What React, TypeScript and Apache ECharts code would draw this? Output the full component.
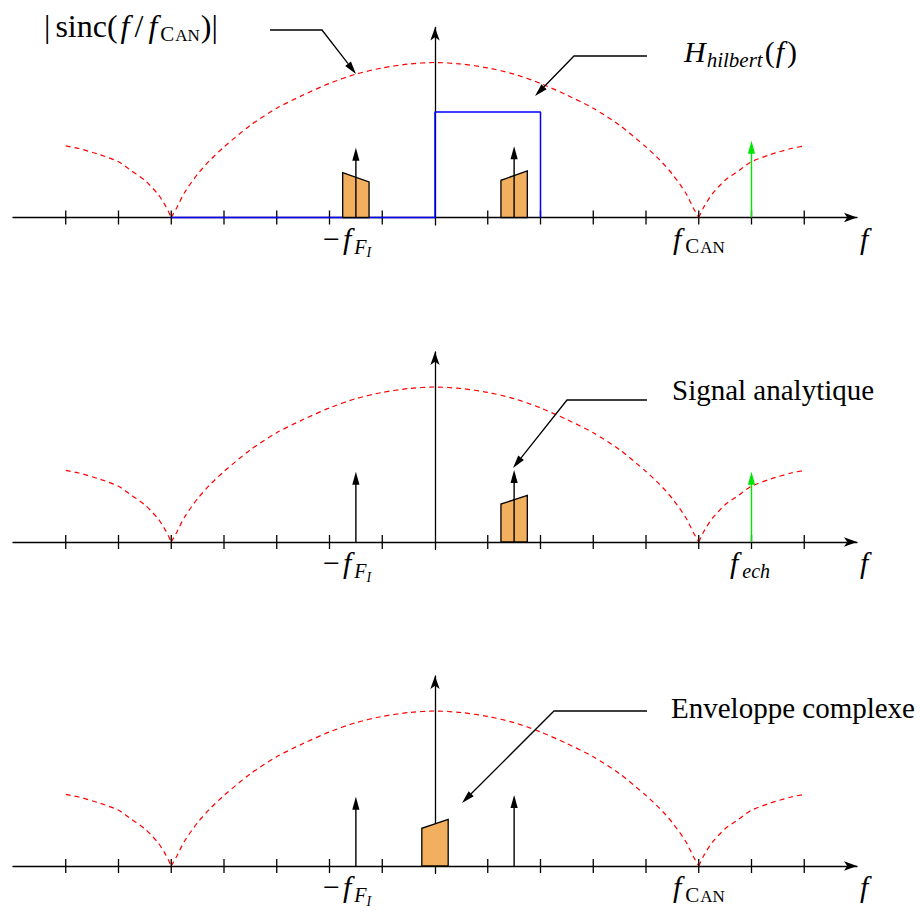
import React, { useEffect, useRef } from "react";
import * as echarts from "echarts";

// ---- data ----
// |sinc| envelope, frequency in units of fCAN/5 (fCAN = 5)
const sincF = [-7, -6.75, -6.35, -6, -5.75, -5.5, -5.25, -5.1, -5, -4.9, -4.75, -4.5, -4.25, -4, -3.5, -3, -2.5, -2, -1.5, -1, -0.5, 0, 0.5, 1, 1.5, 2, 2.5, 3, 3.5, 4, 4.25, 4.5, 4.75, 4.9, 5, 5.1, 5.25, 5.5, 5.75, 6, 6.35, 6.75, 7];
const sincH = [0.462, 0.445, 0.405, 0.36, 0.3, 0.24, 0.15, 0.07, 0, 0.06, 0.16, 0.28, 0.375, 0.455, 0.595, 0.705, 0.79, 0.865, 0.925, 0.965, 0.99, 1, 0.99, 0.965, 0.925, 0.865, 0.79, 0.705, 0.595, 0.455, 0.375, 0.28, 0.16, 0.06, 0, 0.07, 0.15, 0.24, 0.3, 0.36, 0.405, 0.445, 0.462];

// Hilbert filter (panel 1)
const hilbertF = [-5, 0, 0, 2, 2];
const hilbertH = [0, 0, 0.68, 0.68, 0];

// axis ticks
const tickValues = [-7, -6, -5, -4, -3, -2, -1, 1, 2, 3, 4, 5, 6, 7];

// Dirac arrows [f, height]
const p1Black = [[-1.5, 0.45], [1.5, 0.46]];
const p1Green = [[6, 0.495]];
const p2Black = [[-1.5, 0.454], [1.5, 0.465]];
const p2Green = [[6, 0.454]];
const p3Black = [[-1.5, 0.447], [1.5, 0.458]];

// spectral bands [center f, left height, right height]
const p1Bands = [[-1.5, 0.29, 0.23], [1.5, 0.24, 0.3]];
const p2Bands = [[1.5, 0.245, 0.3]];
const p3Bands = [[0, 0.243, 0.3]];

// ---- layout ----
const BASE = [217.5, 542, 866];
const Y_MIN = -0.048;
const Y_MAX = 1.226;
const PXY = 155;
const X_MIN = -8;
const X_MAX = 8.0;
const PXX = 52.75;
const LEFT = 13;
const BAND_HW = 0.25;
const FONT = "Liberation Serif, Times New Roman, serif";

const measureCtx = typeof document !== "undefined" ? document.createElement("canvas").getContext("2d") : null;
function textWidth(t: string, size: number, italic: boolean) {
  if (!measureCtx) return t.length * size * 0.5;
  measureCtx.font = `${italic ? "italic " : ""}${size}px 'Liberation Serif', serif`;
  return measureCtx.measureText(t).width;
}

type Piece = { t: string; s: number; i?: boolean; dy?: number; dx?: number };
function mathText(x: number, baseline: number, parts: Piece[]) {
  const els: any[] = [];
  let cx = x;
  for (const p of parts) {
    cx += p.dx || 0;
    els.push({
      type: "text",
      x: cx,
      y: baseline + (p.dy || 0) - 0.34 * p.s,
      z: 20,
      style: {
        text: p.t,
        fontFamily: FONT,
        fontSize: p.s,
        fontStyle: p.i ? "italic" : "normal",
        fill: "#000",
        align: "left",
        verticalAlign: "middle",
      },
    });
    cx += textWidth(p.t, p.s, !!p.i);
  }
  return els;
}

function leader(pts: number[][]) {
  const n = pts.length;
  const [x1, y1] = pts[n - 2];
  const [x2, y2] = pts[n - 1];
  const ang = Math.atan2(y2 - y1, x2 - x1);
  const L = 13;
  const W = 3.6;
  const bx = x2 - L * Math.cos(ang);
  const by = y2 - L * Math.sin(ang);
  const nx = -Math.sin(ang);
  const ny = Math.cos(ang);
  return [
    {
      type: "polyline",
      z: 20,
      shape: { points: [...pts.slice(0, n - 1), [bx, by]] },
      style: { stroke: "#000", lineWidth: 1.3, fill: null },
    },
    {
      type: "polygon",
      z: 20,
      shape: { points: [[x2, y2], [bx + nx * W, by + ny * W], [bx - nx * W, by - ny * W]] },
      style: { fill: "#000" },
    },
  ];
}

function diracSeries(idx: number, data: number[][], color: string) {
  return {
    type: "custom",
    xAxisIndex: idx,
    yAxisIndex: idx,
    z: 6,
    data,
    renderItem: (_p: any, api: any) => {
      const f = api.value(0);
      const h = api.value(1);
      const p0 = api.coord([f, 0]);
      const p1 = api.coord([f, h]);
      const L = 13;
      const W = 3.6;
      return {
        type: "group",
        children: [
          { type: "line", shape: { x1: p0[0], y1: p0[1], x2: p1[0], y2: p1[1] + L - 1 }, style: { stroke: color, lineWidth: 1.4 } },
          { type: "polygon", shape: { points: [[p1[0], p1[1]], [p1[0] - W, p1[1] + L], [p1[0] + W, p1[1] + L]] }, style: { fill: color } },
        ],
      };
    },
  };
}

function bandSeries(idx: number, data: number[][]) {
  return {
    type: "custom",
    xAxisIndex: idx,
    yAxisIndex: idx,
    z: 4,
    data,
    renderItem: (_p: any, api: any) => {
      const c = api.value(0);
      const hl = api.value(1);
      const hr = api.value(2);
      const a = api.coord([c - BAND_HW, 0]);
      const b = api.coord([c - BAND_HW, hl]);
      const d = api.coord([c + BAND_HW, hr]);
      const e = api.coord([c + BAND_HW, 0]);
      return {
        type: "polygon",
        shape: { points: [a, b, d, e] },
        style: { fill: "#F2AF5E", stroke: "#000", lineWidth: 1.3 },
      };
    },
  };
}

function tickSeries(idx: number) {
  return {
    type: "custom",
    xAxisIndex: idx,
    yAxisIndex: idx,
    z: 3,
    data: tickValues.map((v) => [v, 0]),
    renderItem: (_p: any, api: any) => {
      const p = api.coord([api.value(0), 0]);
      return { type: "line", shape: { x1: p[0], y1: p[1] - 7, x2: p[0], y2: p[1] + 7 }, style: { stroke: "#000", lineWidth: 1.3 } };
    },
  };
}

function sincSeries(idx: number) {
  const pts = sincF.map((f, k) => [f, sincH[k]]);
  const parts = [
    pts.filter((p) => p[0] <= -5),
    pts.filter((p) => p[0] >= -5 && p[0] <= 5),
    pts.filter((p) => p[0] >= 5),
  ];
  return parts.map((d) => ({
    type: "line",
    xAxisIndex: idx,
    yAxisIndex: idx,
    data: d,
    showSymbol: false,
    smooth: 0.25,
    clip: false,
    z: 2,
    lineStyle: { color: "#ff0000", width: 1.2, type: [5, 4] },
  }));
}

function buildOption() {
  const grids: any[] = [];
  const xAxes: any[] = [];
  const yAxes: any[] = [];
  const axisLineStyle = { color: "#000", width: 1.3 };
  BASE.forEach((b, i) => {
    grids.push({
      left: LEFT,
      top: b - Y_MAX * PXY,
      width: (X_MAX - X_MIN) * PXX,
      height: (Y_MAX - Y_MIN) * PXY,
    });
    xAxes.push({
      gridIndex: i,
      type: "value",
      min: X_MIN,
      max: X_MAX,
      axisLine: { show: true, onZero: true, symbol: ["none", "arrow"], symbolSize: [7, 13], lineStyle: axisLineStyle },
      axisTick: { show: false },
      axisLabel: { show: false },
      splitLine: { show: false },
    });
    yAxes.push({
      gridIndex: i,
      type: "value",
      min: Y_MIN,
      max: Y_MAX,
      axisLine: { show: true, onZero: true, symbol: ["none", "arrow"], symbolSize: [7, 13], lineStyle: axisLineStyle },
      axisTick: { show: false },
      axisLabel: { show: false },
      splitLine: { show: false },
    });
  });

  const series: any[] = [];
  [0, 1, 2].forEach((i) => {
    series.push(...sincSeries(i));
    series.push(tickSeries(i));
  });
  series.push({
    type: "line",
    xAxisIndex: 0,
    yAxisIndex: 0,
    data: hilbertF.map((f, k) => [f, hilbertH[k]]),
    showSymbol: false,
    clip: false,
    z: 3,
    lineStyle: { color: "#0000ff", width: 1.5 },
  });
  series.push(bandSeries(0, p1Bands), bandSeries(1, p2Bands), bandSeries(2, p3Bands));
  series.push(diracSeries(0, p1Black, "#000"), diracSeries(0, p1Green, "#00e600"));
  series.push(diracSeries(1, p2Black, "#000"), diracSeries(1, p2Green, "#00e600"));
  series.push(diracSeries(2, p3Black, "#000"));

  const M = 30;
  const graphic: any[] = [];
  // top-left |sinc(f/fCAN)|
  graphic.push(
    ...mathText(44, 37, [
      { t: "|", s: 32 },
      { t: "sinc(", s: 32, dx: 5 },
      { t: "f", s: 32, i: true, dx: 3 },
      { t: "/", s: 32, dx: 5 },
      { t: "f", s: 32, i: true, dx: 5 },
      { t: "C", s: 21, dy: 4, dx: 3 },
      { t: "AN", s: 17, dy: 4, dx: 1 },
      { t: ")", s: 32, dx: 1 },
      { t: "|", s: 32 },
    ])
  );
  graphic.push(
    ...mathText(684, 62, [
      { t: "H", s: M, i: true },
      { t: "hilbert", s: 21, i: true, dy: 5, dx: 1 },
      { t: "(", s: M, dx: 2 },
      { t: "f", s: M, i: true, dx: 1 },
      { t: ")", s: M, dx: 3 },
    ])
  );
  graphic.push(...leader([[270, 30], [322, 30], [356, 74]]));
  graphic.push(...leader([[647, 56], [574, 56], [535, 96]]));
  graphic.push(...leader([[647, 400], [567, 400], [513, 468]]));
  graphic.push(...leader([[647, 711], [554, 711], [462, 803]]));

  graphic.push(
    { type: "text", x: 672, y: 400 - 0.34 * 29, z: 20, style: { text: "Signal analytique", fontFamily: FONT, fontSize: 29, fill: "#000", align: "left", verticalAlign: "middle" } },
    { type: "text", x: 671, y: 718 - 0.34 * 29, z: 20, style: { text: "Enveloppe complexe", fontFamily: FONT, fontSize: 29, fill: "#000", align: "left", verticalAlign: "middle" } }
  );

  BASE.forEach((b, i) => {
    const lb = b + 31;
    graphic.push(
      ...mathText(323, lb, [
        { t: "\u2212", s: M },
        { t: "f", s: M, i: true, dx: 3 },
        { t: "F", s: 20, i: true, dy: 5, dx: 3 },
        { t: "I", s: 14, i: true, dy: 9 },
      ])
    );
    graphic.push(...mathText(860, lb, [{ t: "f", s: M, i: true }]));
    if (i === 1) {
      graphic.push(...mathText(730, lb, [{ t: "f", s: M, i: true }, { t: "ech", s: 20, i: true, dy: 5, dx: 4 }]));
    } else {
      graphic.push(
        ...mathText(673, lb, [
          { t: "f", s: M, i: true },
          { t: "C", s: 21, dy: 5, dx: 4 },
          { t: "AN", s: 17, dy: 5, dx: 1 },
        ])
      );
    }
  });

  return {
    animation: false,
    backgroundColor: "#ffffff",
    grid: grids,
    xAxis: xAxes,
    yAxis: yAxes,
    series,
    graphic,
  };
}

export default function App() {
  const ref = useRef<HTMLDivElement>(null);
  useEffect(() => {
    if (!ref.current) return;
    const chart = echarts.init(ref.current, null, { renderer: "svg" });
    chart.setOption(buildOption() as any);
    return () => chart.dispose();
  }, []);
  return (
    <div
      ref={ref}
      style={{ position: "fixed", left: 0, top: 0, width: 920, height: 911, background: "#fff" }}
    />
  );
}
